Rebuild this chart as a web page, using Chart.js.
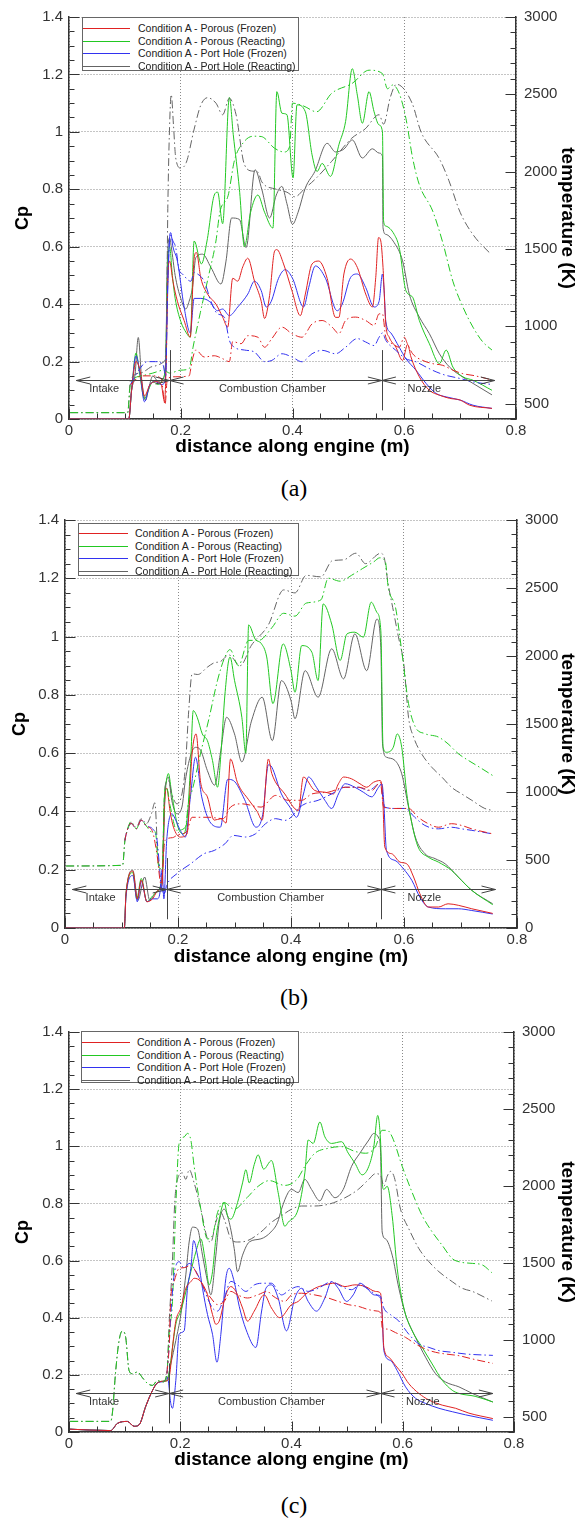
<!DOCTYPE html>
<html><head><meta charset="utf-8">
<script src="https://cdn.jsdelivr.net/npm/chart.js@4.4.0/dist/chart.umd.min.js"></script>
<style>
body{margin:0;background:#fff;}
#page{position:relative;width:579px;height:1520px;overflow:hidden;background:#fff;font-family:"Liberation Sans",Arial,sans-serif;}
#page canvas{position:absolute;left:0;}
.legend{position:absolute;border:1px solid #666;background:#fff;box-sizing:border-box;}
.legend .row{position:absolute;left:0;height:13px;font-size:10.5px;line-height:13px;color:#222;white-space:nowrap;}
.legend .sw{position:absolute;left:0;top:6px;height:1px;}
.legend .tx{position:absolute;top:0;}
.cap{position:absolute;left:0;width:588px;text-align:center;font-family:"Liberation Serif","Times New Roman",serif;font-size:24px;line-height:28px;color:#000;}
</style>
</head><body><div id="page"></div>
<script>
// ---------- tick labels / names ----------
const xTicks=[0,0.2,0.4,0.6,0.8];
const cpTicks=[0,0.2,0.4,0.6,0.8,1,1.2,1.4];
const tempTicksAC=[500,1000,1500,2000,2500,3000];
const tempTicksB=[0,500,1000,1500,2000,2500,3000];
const seriesNames=['Condition A - Porous (Frozen)','Condition A - Porous (Reacting)','Condition A - Port Hole (Frozen)','Condition A - Port Hole (Reacting)'];
const sectionNames=['Intake','Combustion Chamber','Nozzle'];
const sectionBounds=[0.013,0.18,0.56,0.762];

// ---------- panel (a): Cp (left axis) ----------
const aPorousFrozenCp=[[0,0],[0.107,0],[0.112,0.1],[0.12,0.2],[0.127,0.17],[0.135,0.08],[0.145,0.12],[0.155,0.13],[0.165,0.12],[0.171,0.06],[0.174,0.2],[0.177,0.5],[0.18,0.55],[0.186,0.48],[0.194,0.41],[0.206,0.343],[0.217,0.285],[0.224,0.56],[0.228,0.58],[0.236,0.49],[0.248,0.435],[0.263,0.4],[0.275,0.355],[0.284,0.32],[0.293,0.49],[0.302,0.48],[0.311,0.53],[0.32,0.56],[0.332,0.48],[0.344,0.41],[0.35,0.35],[0.359,0.43],[0.368,0.585],[0.372,0.59],[0.384,0.54],[0.399,0.447],[0.414,0.36],[0.423,0.435],[0.435,0.54],[0.447,0.55],[0.462,0.49],[0.477,0.354],[0.483,0.354],[0.492,0.505],[0.504,0.557],[0.516,0.528],[0.531,0.435],[0.543,0.39],[0.549,0.493],[0.554,0.632],[0.558,0.62],[0.562,0.528],[0.567,0.33],[0.573,0.285],[0.585,0.25],[0.597,0.204],[0.606,0.26],[0.612,0.216],[0.627,0.147],[0.645,0.1],[0.663,0.083],[0.681,0.072],[0.7,0.066],[0.717,0.048],[0.757,0.037]];
const aPorousReactingCp=[[0,0],[0.107,0],[0.112,0.1],[0.12,0.23],[0.127,0.15],[0.135,0.07],[0.142,0.1],[0.15,0.13],[0.16,0.12],[0.168,0.14],[0.173,0.2],[0.176,0.5],[0.18,0.6],[0.185,0.5],[0.19,0.42],[0.2,0.34],[0.21,0.3],[0.217,0.285],[0.224,0.62],[0.237,0.54],[0.247,0.62],[0.26,0.78],[0.266,0.79],[0.275,0.68],[0.287,1.12],[0.294,0.99],[0.305,0.8],[0.314,0.6],[0.325,0.72],[0.338,0.78],[0.35,0.72],[0.365,0.665],[0.372,1.14],[0.381,1.065],[0.39,1.06],[0.401,0.84],[0.408,1.094],[0.423,1.07],[0.435,0.92],[0.444,0.862],[0.453,0.89],[0.468,0.845],[0.483,0.955],[0.495,1.036],[0.507,1.22],[0.516,1.128],[0.525,1.03],[0.537,1.14],[0.546,1.07],[0.555,1.024],[0.561,1.0],[0.563,0.69],[0.567,0.672],[0.582,0.643],[0.591,0.597],[0.603,0.447],[0.615,0.424],[0.627,0.343],[0.645,0.262],[0.663,0.193],[0.675,0.24],[0.687,0.181],[0.705,0.147],[0.723,0.135],[0.757,0.1]];
const aPortFrozenCp=[[0,0],[0.107,0],[0.112,0.1],[0.12,0.22],[0.127,0.16],[0.135,0.06],[0.145,0.12],[0.155,0.13],[0.165,0.12],[0.172,0.13],[0.176,0.4],[0.18,0.63],[0.182,0.649],[0.186,0.6],[0.194,0.55],[0.206,0.39],[0.217,0.3],[0.224,0.42],[0.236,0.42],[0.251,0.41],[0.266,0.377],[0.275,0.383],[0.287,0.36],[0.302,0.39],[0.32,0.435],[0.332,0.48],[0.344,0.447],[0.353,0.39],[0.362,0.41],[0.375,0.49],[0.387,0.52],[0.4,0.49],[0.42,0.39],[0.429,0.458],[0.441,0.533],[0.459,0.49],[0.48,0.377],[0.489,0.4],[0.504,0.493],[0.516,0.505],[0.531,0.458],[0.546,0.39],[0.555,0.41],[0.561,0.505],[0.564,0.447],[0.567,0.34],[0.576,0.3],[0.591,0.25],[0.603,0.21],[0.621,0.17],[0.639,0.124],[0.657,0.089],[0.675,0.077],[0.7,0.066],[0.723,0.048],[0.757,0.037]];
const aPortReactingCp=[[0,0],[0.107,0],[0.112,0.1],[0.118,0.15],[0.124,0.284],[0.13,0.14],[0.137,0.065],[0.143,0.11],[0.15,0.15],[0.16,0.13],[0.168,0.14],[0.173,0.2],[0.176,0.55],[0.18,0.63],[0.183,0.6],[0.19,0.5],[0.2,0.42],[0.209,0.383],[0.215,0.41],[0.221,0.458],[0.227,0.562],[0.239,0.574],[0.254,0.528],[0.272,0.47],[0.281,0.55],[0.291,0.7],[0.305,0.695],[0.317,0.597],[0.333,0.868],[0.345,0.8],[0.359,0.7],[0.371,0.78],[0.381,0.81],[0.39,0.75],[0.4,0.678],[0.41,0.72],[0.423,0.805],[0.44,0.862],[0.462,0.96],[0.477,0.93],[0.492,0.94],[0.507,0.972],[0.525,0.909],[0.543,0.941],[0.555,0.926],[0.561,0.915],[0.562,0.666],[0.567,0.643],[0.582,0.614],[0.597,0.551],[0.609,0.435],[0.627,0.355],[0.645,0.297],[0.663,0.227],[0.681,0.181],[0.7,0.152],[0.723,0.124],[0.757,0.084]];
// ---------- panel (a): temperature K (right axis) ----------
const aInletT=[[0.002,441],[0.105,441]];
const aPorousFrozenT=[[0.11,623],[0.13,679],[0.15,679],[0.165,660],[0.172,493],[0.176,660],[0.19,673],[0.215,679],[0.22,771],[0.227,846],[0.242,801],[0.26,809],[0.275,790],[0.287,771],[0.293,901],[0.308,887],[0.32,939],[0.338,929],[0.35,864],[0.363,920],[0.381,994],[0.399,952],[0.417,929],[0.435,1015],[0.453,1037],[0.471,994],[0.483,952],[0.495,1037],[0.513,1059],[0.531,1037],[0.546,1005],[0.555,1080],[0.561,1080],[0.567,929],[0.579,887],[0.591,864],[0.6,929],[0.606,883],[0.615,822],[0.633,779],[0.651,758],[0.669,747],[0.687,716],[0.705,693],[0.723,682],[0.757,653]];
const aPorousReactingT=[[0.11,623],[0.13,679],[0.15,697],[0.17,716],[0.18,697],[0.2,716],[0.215,725],[0.222,864],[0.235,1087],[0.25,1329],[0.263,1551],[0.27,1737],[0.285,1848],[0.296,2071],[0.314,2196],[0.33,2229],[0.344,2227],[0.368,2151],[0.385,2127],[0.395,2164],[0.4,2443],[0.42,2424],[0.443,2387],[0.47,2506],[0.507,2571],[0.537,2656],[0.561,2634],[0.57,2536],[0.579,2560],[0.591,2506],[0.603,2344],[0.615,2088],[0.627,1915],[0.651,1744],[0.669,1540],[0.687,1291],[0.705,1124],[0.723,994],[0.74,901],[0.757,846]];
const aPortFrozenT=[[0.11,623],[0.125,716],[0.14,771],[0.155,771],[0.168,753],[0.173,679],[0.177,1329],[0.182,1588],[0.186,1551],[0.191,1509],[0.197,1366],[0.203,1338],[0.218,1291],[0.224,1347],[0.23,1338],[0.242,1291],[0.254,1161],[0.266,1080],[0.278,1059],[0.287,909],[0.296,864],[0.314,846],[0.332,833],[0.35,771],[0.363,779],[0.381,822],[0.399,801],[0.417,770],[0.435,822],[0.453,844],[0.477,822],[0.495,864],[0.516,920],[0.531,898],[0.546,875],[0.555,929],[0.561,957],[0.567,909],[0.585,844],[0.603,790],[0.621,770],[0.639,736],[0.657,705],[0.675,682],[0.7,662],[0.723,640],[0.757,623]];
const aPortReactingT=[[0.11,650],[0.13,700],[0.15,740],[0.17,770],[0.174,900],[0.177,1800],[0.181,2400],[0.183,2498],[0.187,2300],[0.191,2088],[0.2,2023],[0.21,2060],[0.224,2275],[0.236,2431],[0.248,2478],[0.263,2443],[0.275,2368],[0.287,2474],[0.299,2368],[0.314,2045],[0.329,2003],[0.338,1997],[0.345,1934],[0.371,1886],[0.39,1867],[0.404,1837],[0.423,1895],[0.44,1949],[0.47,2066],[0.506,2216],[0.53,2276],[0.555,2368],[0.563,2307],[0.575,2480],[0.586,2565],[0.614,2443],[0.63,2257],[0.663,2082],[0.68,1941],[0.7,1737],[0.724,1588],[0.755,1466]];

// ---------- panel (b): Cp ----------
const bPorousFrozenCp=[[0,0],[0.105,0],[0.108,0.118],[0.12,0.195],[0.128,0.1],[0.135,0.165],[0.145,0.09],[0.155,0.1],[0.165,0.13],[0.172,0.15],[0.176,0.42],[0.18,0.48],[0.186,0.4],[0.192,0.346],[0.204,0.312],[0.216,0.323],[0.225,0.6],[0.232,0.666],[0.24,0.5],[0.252,0.45],[0.264,0.37],[0.276,0.375],[0.285,0.36],[0.293,0.58],[0.305,0.5],[0.325,0.44],[0.34,0.4],[0.349,0.37],[0.36,0.58],[0.366,0.53],[0.389,0.46],[0.413,0.403],[0.422,0.518],[0.442,0.472],[0.46,0.466],[0.475,0.46],[0.484,0.495],[0.493,0.518],[0.507,0.512],[0.522,0.495],[0.534,0.483],[0.546,0.5],[0.558,0.506],[0.562,0.46],[0.566,0.278],[0.578,0.255],[0.593,0.226],[0.605,0.22],[0.617,0.175],[0.628,0.118],[0.643,0.072],[0.661,0.072],[0.678,0.083],[0.696,0.078],[0.72,0.066],[0.757,0.05]];
const bPorousReactingCp=[[0,0],[0.105,0],[0.108,0.118],[0.12,0.19],[0.127,0.1],[0.135,0.17],[0.145,0.09],[0.155,0.11],[0.165,0.13],[0.172,0.18],[0.176,0.45],[0.179,0.5],[0.183,0.53],[0.189,0.46],[0.2,0.346],[0.21,0.323],[0.217,0.392],[0.222,0.552],[0.227,0.746],[0.234,0.723],[0.243,0.666],[0.252,0.643],[0.261,0.575],[0.27,0.483],[0.276,0.598],[0.283,0.8],[0.292,0.93],[0.3,0.85],[0.313,0.723],[0.32,0.6],[0.325,1.04],[0.337,0.99],[0.347,0.977],[0.357,0.93],[0.368,0.77],[0.386,0.975],[0.4,0.883],[0.407,0.809],[0.419,0.969],[0.437,0.946],[0.448,0.849],[0.457,1.112],[0.472,1.043],[0.487,0.918],[0.499,1.009],[0.513,1.015],[0.528,0.998],[0.542,1.118],[0.552,1.083],[0.559,1.02],[0.563,0.62],[0.569,0.603],[0.581,0.62],[0.588,0.666],[0.596,0.62],[0.605,0.46],[0.614,0.358],[0.625,0.278],[0.643,0.243],[0.661,0.226],[0.684,0.198],[0.702,0.163],[0.72,0.129],[0.757,0.08]];
const bPortFrozenCp=[[0,0],[0.105,0],[0.108,0.11],[0.12,0.18],[0.128,0.09],[0.135,0.16],[0.145,0.09],[0.155,0.1],[0.163,0.1],[0.168,0.12],[0.172,0.2],[0.175,0.1],[0.18,0.3],[0.189,0.392],[0.196,0.37],[0.204,0.335],[0.213,0.312],[0.222,0.45],[0.231,0.586],[0.242,0.45],[0.258,0.36],[0.275,0.346],[0.288,0.51],[0.298,0.506],[0.318,0.44],[0.338,0.346],[0.35,0.39],[0.36,0.56],[0.366,0.552],[0.383,0.46],[0.398,0.415],[0.41,0.38],[0.422,0.46],[0.431,0.518],[0.445,0.483],[0.46,0.438],[0.472,0.41],[0.484,0.46],[0.496,0.495],[0.513,0.483],[0.528,0.466],[0.543,0.45],[0.555,0.483],[0.561,0.495],[0.564,0.438],[0.569,0.266],[0.584,0.232],[0.599,0.203],[0.614,0.163],[0.628,0.106],[0.643,0.072],[0.673,0.066],[0.696,0.066],[0.72,0.06],[0.757,0.048]];
const bPortReactingCp=[[0,0],[0.105,0],[0.108,0.118],[0.12,0.198],[0.129,0.095],[0.141,0.175],[0.15,0.095],[0.159,0.118],[0.168,0.14],[0.173,0.2],[0.177,0.45],[0.183,0.518],[0.189,0.438],[0.198,0.392],[0.207,0.415],[0.213,0.506],[0.222,0.59],[0.231,0.62],[0.24,0.61],[0.252,0.54],[0.265,0.49],[0.275,0.6],[0.286,0.723],[0.3,0.666],[0.313,0.57],[0.33,0.71],[0.349,0.792],[0.367,0.643],[0.383,0.849],[0.4,0.78],[0.407,0.718],[0.425,0.883],[0.448,0.792],[0.472,0.958],[0.493,0.855],[0.513,1.009],[0.534,0.883],[0.552,1.06],[0.559,0.963],[0.562,0.632],[0.569,0.586],[0.584,0.575],[0.596,0.529],[0.608,0.415],[0.62,0.312],[0.637,0.255],[0.655,0.238],[0.673,0.22],[0.696,0.175],[0.72,0.129],[0.757,0.083]];
// ---------- panel (b): temperature K ----------
const bInletT=[[0.002,456],[0.102,461]];
const bPorousFrozenT=[[0.106,643],[0.108,686],[0.117,771],[0.126,729],[0.135,793],[0.144,750],[0.155,707],[0.163,536],[0.17,321],[0.177,643],[0.19,664],[0.2,686],[0.215,707],[0.225,814],[0.255,814],[0.28,804],[0.293,889],[0.313,913],[0.347,889],[0.373,975],[0.395,939],[0.419,939],[0.437,986],[0.466,999],[0.496,1035],[0.519,1035],[0.543,1011],[0.558,1072],[0.564,889],[0.584,879],[0.608,879],[0.625,814],[0.643,767],[0.661,741],[0.684,767],[0.702,754],[0.72,729],[0.757,692]];
const bPorousReactingT=[[0.106,643],[0.108,686],[0.117,782],[0.126,729],[0.135,793],[0.144,750],[0.153,707],[0.16,707],[0.165,471],[0.172,429],[0.176,964],[0.18,1029],[0.186,900],[0.198,718],[0.213,741],[0.219,939],[0.225,1011],[0.24,1286],[0.255,1543],[0.27,1822],[0.283,1993],[0.292,2047],[0.307,1929],[0.325,2115],[0.343,2115],[0.366,2207],[0.387,2314],[0.407,2293],[0.427,2389],[0.453,2413],[0.466,2572],[0.487,2550],[0.507,2593],[0.527,2644],[0.547,2694],[0.557,2722],[0.567,2694],[0.572,2507],[0.585,2357],[0.596,2036],[0.608,1650],[0.62,1479],[0.637,1429],[0.661,1404],[0.678,1354],[0.696,1282],[0.714,1232],[0.735,1179],[0.757,1121]];
const bPortFrozenT=[[0.106,643],[0.108,686],[0.117,771],[0.126,729],[0.135,793],[0.144,750],[0.155,729],[0.163,643],[0.17,321],[0.175,236],[0.18,313],[0.198,399],[0.222,471],[0.246,546],[0.264,570],[0.283,619],[0.298,681],[0.319,669],[0.337,692],[0.355,767],[0.373,804],[0.389,791],[0.4,814],[0.413,879],[0.425,913],[0.448,939],[0.472,986],[0.496,1035],[0.519,1035],[0.537,1011],[0.558,1061],[0.566,889],[0.584,879],[0.602,879],[0.619,814],[0.637,754],[0.661,729],[0.684,741],[0.702,729],[0.72,718],[0.757,692]];
const bPortReactingT=[[0.106,643],[0.108,686],[0.117,767],[0.126,741],[0.135,804],[0.144,767],[0.153,840],[0.159,921],[0.165,497],[0.172,429],[0.176,964],[0.179,1072],[0.183,1084],[0.189,986],[0.198,913],[0.207,986],[0.213,1183],[0.219,1599],[0.225,1869],[0.235,1864],[0.252,1918],[0.264,1950],[0.275,1959],[0.29,2008],[0.31,1929],[0.33,2079],[0.36,2229],[0.387,2486],[0.407,2464],[0.427,2593],[0.453,2582],[0.473,2700],[0.493,2707],[0.515,2756],[0.532,2679],[0.552,2743],[0.558,2756],[0.565,2722],[0.572,2529],[0.58,2357],[0.59,2143],[0.6,1929],[0.608,1549],[0.617,1404],[0.631,1282],[0.649,1183],[0.667,1110],[0.684,1035],[0.702,986],[0.72,939],[0.743,879],[0.757,864]];

// ---------- panel (c): Cp ----------
const cIntakeCp=[[0,0.01],[0.075,0.005],[0.087,0.03],[0.105,0.037],[0.117,0.02],[0.126,0.025],[0.138,0.09],[0.15,0.145],[0.159,0.172],[0.171,0.178]];
const cPorousFrozenCp=[[0.177,0.18],[0.181,0.2],[0.186,0.296],[0.192,0.388],[0.201,0.434],[0.21,0.503],[0.219,0.526],[0.225,0.538],[0.237,0.526],[0.249,0.48],[0.258,0.411],[0.264,0.377],[0.27,0.388],[0.282,0.48],[0.291,0.509],[0.3,0.492],[0.312,0.434],[0.321,0.388],[0.333,0.423],[0.351,0.48],[0.364,0.434],[0.379,0.4],[0.4,0.446],[0.412,0.457],[0.424,0.48],[0.442,0.503],[0.46,0.515],[0.478,0.521],[0.496,0.509],[0.514,0.515],[0.533,0.509],[0.551,0.492],[0.56,0.486],[0.563,0.411],[0.566,0.296],[0.575,0.262],[0.587,0.233],[0.599,0.204],[0.611,0.169],[0.629,0.135],[0.647,0.112],[0.671,0.094],[0.695,0.083],[0.719,0.066],[0.762,0.047]];
const cPorousReactingCp=[[0.177,0.18],[0.183,0.25],[0.192,0.377],[0.201,0.423],[0.21,0.49],[0.219,0.561],[0.228,0.63],[0.237,0.676],[0.245,0.6],[0.252,0.515],[0.258,0.561],[0.264,0.676],[0.27,0.745],[0.279,0.803],[0.285,0.757],[0.291,0.745],[0.303,0.803],[0.312,0.872],[0.318,0.918],[0.324,0.872],[0.333,0.936],[0.34,0.97],[0.35,0.92],[0.364,0.95],[0.376,0.838],[0.388,0.72],[0.394,0.734],[0.412,0.78],[0.424,0.907],[0.43,1.022],[0.439,1.01],[0.451,1.085],[0.46,1.033],[0.472,1.01],[0.49,1.016],[0.502,0.976],[0.514,0.941],[0.527,0.9],[0.539,0.93],[0.548,0.999],[0.555,1.108],[0.56,1.022],[0.563,0.872],[0.566,0.849],[0.572,0.86],[0.581,0.757],[0.59,0.573],[0.602,0.434],[0.617,0.354],[0.635,0.296],[0.653,0.238],[0.671,0.181],[0.689,0.146],[0.701,0.135],[0.73,0.125],[0.762,0.105]];
const cPortFrozenCp=[[0.177,0.192],[0.183,0.1],[0.186,0.083],[0.192,0.18],[0.198,0.342],[0.207,0.354],[0.213,0.503],[0.219,0.573],[0.224,0.67],[0.231,0.619],[0.24,0.503],[0.249,0.411],[0.258,0.342],[0.266,0.244],[0.273,0.342],[0.282,0.538],[0.288,0.573],[0.297,0.526],[0.306,0.44],[0.318,0.36],[0.336,0.296],[0.346,0.42],[0.354,0.503],[0.364,0.515],[0.376,0.469],[0.391,0.354],[0.406,0.469],[0.418,0.503],[0.43,0.457],[0.445,0.423],[0.46,0.469],[0.472,0.526],[0.484,0.503],[0.499,0.457],[0.511,0.48],[0.523,0.521],[0.536,0.503],[0.548,0.48],[0.56,0.469],[0.563,0.411],[0.566,0.285],[0.578,0.25],[0.59,0.215],[0.605,0.158],[0.623,0.118],[0.641,0.1],[0.665,0.083],[0.689,0.071],[0.713,0.06],[0.762,0.041]];
const cPortReactingCp=[[0.177,0.187],[0.183,0.238],[0.192,0.32],[0.201,0.41],[0.21,0.55],[0.216,0.665],[0.222,0.717],[0.231,0.711],[0.24,0.619],[0.249,0.527],[0.255,0.48],[0.264,0.619],[0.27,0.734],[0.279,0.78],[0.288,0.734],[0.297,0.642],[0.303,0.561],[0.312,0.619],[0.324,0.665],[0.345,0.676],[0.363,0.7],[0.375,0.734],[0.382,0.78],[0.394,0.838],[0.4,0.849],[0.412,0.838],[0.424,0.884],[0.436,0.849],[0.451,0.809],[0.463,0.849],[0.478,0.82],[0.493,0.849],[0.508,0.93],[0.523,0.976],[0.539,1.022],[0.548,1.045],[0.557,1.028],[0.56,0.987],[0.563,0.7],[0.569,0.676],[0.581,0.619],[0.593,0.503],[0.605,0.411],[0.623,0.331],[0.641,0.262],[0.659,0.204],[0.677,0.175],[0.701,0.158],[0.725,0.135],[0.762,0.105]];
// ---------- panel (c): temperature K ----------
const cIntakeT=[[0.002,469],[0.075,469],[0.078,523],[0.084,799],[0.09,994],[0.096,1057],[0.102,1013],[0.108,799],[0.114,779],[0.123,790],[0.132,753],[0.141,716],[0.15,703],[0.159,734],[0.168,725],[0.176,779]];
const cPorousFrozenT=[[0.18,957],[0.183,1273],[0.189,1379],[0.198,1464],[0.207,1468],[0.219,1484],[0.231,1421],[0.243,1334],[0.255,1271],[0.267,1228],[0.279,1249],[0.291,1314],[0.303,1291],[0.321,1271],[0.339,1291],[0.357,1314],[0.364,1291],[0.388,1249],[0.4,1291],[0.418,1302],[0.442,1291],[0.466,1271],[0.484,1249],[0.502,1228],[0.52,1217],[0.539,1195],[0.554,1186],[0.56,1174],[0.563,1078],[0.572,1069],[0.587,1046],[0.605,1015],[0.623,972],[0.641,939],[0.659,918],[0.677,907],[0.701,896],[0.725,875],[0.762,846]];
const cPorousReactingT=[[0.18,1035],[0.186,1249],[0.192,1867],[0.198,2276],[0.207,2318],[0.213,2341],[0.219,2298],[0.225,2127],[0.237,1848],[0.249,1655],[0.258,1678],[0.267,1826],[0.279,1891],[0.297,1848],[0.32,1923],[0.34,1997],[0.36,2034],[0.388,2003],[0.41,2043],[0.424,2127],[0.442,2212],[0.466,2244],[0.49,2255],[0.514,2224],[0.533,2212],[0.551,2255],[0.563,2361],[0.572,2361],[0.581,2318],[0.599,2127],[0.617,1956],[0.635,1806],[0.653,1700],[0.671,1613],[0.689,1527],[0.703,1505],[0.725,1496],[0.743,1486],[0.76,1436]];
const cPortFrozenT=[[0.18,957],[0.183,1161],[0.189,1421],[0.198,1507],[0.207,1464],[0.216,1496],[0.225,1464],[0.237,1379],[0.249,1271],[0.258,1206],[0.267,1186],[0.279,1271],[0.291,1379],[0.303,1356],[0.318,1314],[0.333,1356],[0.348,1367],[0.364,1367],[0.382,1291],[0.397,1325],[0.412,1345],[0.43,1314],[0.448,1334],[0.472,1377],[0.49,1345],[0.508,1325],[0.523,1356],[0.539,1325],[0.554,1291],[0.56,1282],[0.566,1206],[0.578,1163],[0.593,1121],[0.611,1035],[0.629,972],[0.647,950],[0.665,929],[0.689,918],[0.713,907],[0.762,898]];
const cPortReactingT=[[0.18,1106],[0.186,1514],[0.19,1886],[0.195,2042],[0.204,2084],[0.21,2042],[0.216,2105],[0.225,2019],[0.237,1848],[0.249,1655],[0.255,1635],[0.264,1763],[0.272,1830],[0.28,1774],[0.291,1655],[0.303,1635],[0.321,1644],[0.345,1700],[0.364,1763],[0.382,1806],[0.4,1848],[0.418,1869],[0.442,1869],[0.466,1880],[0.484,1902],[0.502,1934],[0.52,1977],[0.539,2042],[0.551,2079],[0.56,2071],[0.566,1997],[0.572,2062],[0.578,2094],[0.585,2053],[0.596,1848],[0.611,1720],[0.629,1592],[0.647,1507],[0.665,1442],[0.689,1377],[0.707,1334],[0.725,1314],[0.76,1252]];

// ---------- styling / layout (not data) ----------
const FONT='"Liberation Sans", Arial, sans-serif';
Chart.defaults.font.family=FONT;
const seriesColors=['#e02222','#22c822','#3232f0','#646464'];
const TDASH=[8,3,1.5,3];
const ARROW_CP=0.135, LABEL_CP=0.104, SEP_LOW=0.03, SEP_HIGH=0.24;
const labelAt=[0.063,0.364,0.636];
const drawOrder=[0,2,1,3];   // red, blue, green, gray

// the shared inlet/intake temperature segment is drawn by the reacting curves only (the frozen ones lie exactly beneath them)
const panels=[
 {top:0,H:465,left:69,right:516,chartTop:14,chartBottom:419,tMin:400,tTicks:tempTicksAC,xTitleY:447,cpTitleX:23.4,
  cp:[aPorousFrozenCp,aPorousReactingCp,aPortFrozenCp,aPortReactingCp],
  t:[aPorousFrozenT,aInletT.concat(aPorousReactingT),aPortFrozenT,aInletT.concat(aPortReactingT)],
  legend:{left:82,top:17,w:217,h:54,rows:[4,17,29,42],sw:47,tx:55},cap:'(a)',capY:488},
 {top:500,H:470,left:65,right:517,chartTop:20,chartBottom:428,tMin:0,tTicks:tempTicksB,xTitleY:456.7,cpTitleX:19.6,
  cp:[bPorousFrozenCp,bPorousReactingCp,bPortFrozenCp,bPortReactingCp],
  t:[bPorousFrozenT,bInletT.concat(bPorousReactingT),bPortFrozenT,bInletT.concat(bPortReactingT)],
  legend:{left:78,top:523,w:221,h:53,rows:[3,16,28,41],sw:49,tx:56},cap:'(b)',capY:997},
 {top:1015,H:470,left:69,right:514,chartTop:14,chartBottom:417,tMin:400,tTicks:tempTicksAC,xTitleY:445,cpTitleX:23.4,
  cp:[cIntakeCp.concat(cPorousFrozenCp),cIntakeCp.concat(cPorousReactingCp),cIntakeCp.concat(cPortFrozenCp),cIntakeCp.concat(cPortReactingCp)],
  t:[[cIntakeT[cIntakeT.length-1]].concat(cPorousFrozenT),cIntakeT.concat(cPorousReactingT),[cIntakeT[cIntakeT.length-1]].concat(cPortFrozenT),cIntakeT.concat(cPortReactingT)],
  legend:{left:81,top:1031,w:218,h:52,rows:[4,17,29,42],sw:48,tx:55},cap:'(c)',capY:1505}
];

function mk(arr,color,isT){
  return {data:arr.map(p=>({x:p[0],y:p[1]})),yAxisID:isT?'y1':'y',borderColor:color,borderWidth:1,
    borderDash:isT?TDASH:[],pointRadius:0,pointHoverRadius:0,fill:false,cubicInterpolationMode:'monotone'};
}
function makeDecor(){
  return {id:'decor',afterDatasetsDraw(chart){
    const {ctx,chartArea:ca,scales}=chart; const x=scales.x,y=scales.y,y1=scales.y1;
    ctx.save(); ctx.setLineDash([]); ctx.strokeStyle='#333'; ctx.lineWidth=1;
    const seg=(a,b,c,d)=>{ctx.beginPath();ctx.moveTo(a,b);ctx.lineTo(c,d);ctx.stroke();};
    const L=Math.round(ca.left)+0.5,R=Math.round(ca.right)-0.5,B=Math.round(ca.bottom)-0.5;
    for(let i=0;i<=28;i++){const py=Math.round(y.getPixelForValue(i*0.05))+0.5;seg(L,py,L+(i%4?5:10),py);}
    for(let i=0;i<=16;i++){const px=Math.round(x.getPixelForValue(i*0.05))+0.5;seg(px,B,px,B-(i%4?5:10));}
    for(let v=Math.ceil(y1.min/100)*100;v<=y1.max;v+=100){const py=Math.round(y1.getPixelForValue(v))+0.5;seg(R,py,R-(v%500?5:10),py);}
    ctx.strokeStyle='#444';
    const ay=Math.round(y.getPixelForValue(ARROW_CP))+0.5;
    for(let i=0;i<sectionNames.length;i++){
      const x1=x.getPixelForValue(sectionBounds[i]),x2=x.getPixelForValue(sectionBounds[i+1]);
      seg(x1,ay,x2,ay);seg(x1,ay,x1+14,ay-3.5);seg(x1,ay,x1+14,ay+3.5);seg(x2,ay,x2-14,ay-3.5);seg(x2,ay,x2-14,ay+3.5);
    }
    [sectionBounds[1],sectionBounds[2]].forEach(b=>{const px=Math.round(x.getPixelForValue(b))+0.5;seg(px,y.getPixelForValue(SEP_LOW),px,y.getPixelForValue(SEP_HIGH));});
    ctx.fillStyle='#333';ctx.font='11px '+FONT;ctx.textAlign='center';ctx.textBaseline='middle';
    const ly=y.getPixelForValue(LABEL_CP);
    sectionNames.forEach((n,i)=>ctx.fillText(n,x.getPixelForValue(labelAt[i]),ly));
    ctx.restore();
  }};
}
const fmt1=v=>String(Math.round(v*10)/10);
const page=document.getElementById('page');
panels.forEach(p=>{
  const cv=document.createElement('canvas');cv.width=579;cv.height=p.H;
  cv.style.top=p.top+'px';cv.style.width='579px';cv.style.height=p.H+'px';page.appendChild(cv);
  const datasets=[];
  drawOrder.forEach(i=>datasets.push(mk(p.t[i],seriesColors[i],true)));
  drawOrder.forEach(i=>datasets.push(mk(p.cp[i],seriesColors[i],false)));
  const tickFont={family:FONT,size:15};
  new Chart(cv,{type:'line',data:{datasets},plugins:[makeDecor()],options:{
    responsive:false,animation:false,events:[],
    layout:{padding:{top:p.chartTop,left:0,right:0,bottom:0}},
    plugins:{legend:{display:false},tooltip:{enabled:false}},
    scales:{
      x:{type:'linear',min:0,max:0.8,afterBuildTicks:s=>{s.ticks=xTicks.map(v=>({value:v}));},
        ticks:{padding:3,color:'#333',font:tickFont,callback:fmt1,maxRotation:0,autoSkip:false},
        grid:{color:'#8a8a8a',drawTicks:false,lineWidth:1},
        border:{display:true,color:'#333',width:1.5,dash:[1,2]},
        title:{display:true,text:'distance along engine (m)',color:'#000',font:{family:FONT,size:19,weight:'bold'},padding:{top:0,bottom:p.H-p.xTitleY-11.4}},
        afterFit:s=>{s.height=p.H-p.chartBottom;}},
      y:{type:'linear',position:'left',min:0,max:1.4,afterBuildTicks:s=>{s.ticks=cpTicks.map(v=>({value:v}));},
        ticks:{padding:6,color:'#333',font:tickFont,callback:fmt1,autoSkip:false},
        grid:{color:'#8a8a8a',drawTicks:false,lineWidth:1},
        border:{display:true,color:'#333',width:1.5,dash:[1,2]},
        title:{display:true,text:'Cp',color:'#000',font:{family:FONT,size:18,weight:'bold'},padding:{top:p.cpTitleX-10.8,bottom:0}},
        afterFit:s=>{s.width=p.left;}},
      y1:{type:'linear',position:'right',min:p.tMin,max:3000,afterBuildTicks:s=>{s.ticks=p.tTicks.map(v=>({value:v}));},
        ticks:{padding:8,color:'#333',font:tickFont,callback:v=>String(v),autoSkip:false},
        grid:{display:false,drawTicks:false},
        border:{display:true,color:'#333',width:1.5},
        title:{display:true,text:'temperature (K)',color:'#000',font:{family:FONT,size:19,weight:'bold'},padding:{top:0,bottom:0}},
        afterFit:s=>{s.width=579-p.right;}}
    }}});
  const lg=document.createElement('div');lg.className='legend';
  Object.assign(lg.style,{left:p.legend.left+'px',top:p.legend.top+'px',width:p.legend.w+'px',height:p.legend.h+'px'});
  seriesNames.forEach((n,i)=>{
    const r=document.createElement('div');r.className='row';r.style.top=p.legend.rows[i]+'px';r.style.width=(p.legend.w-2)+'px';
    const sw=document.createElement('div');sw.className='sw';sw.style.width=p.legend.sw+'px';sw.style.background=seriesColors[i];
    const tx=document.createElement('span');tx.className='tx';tx.style.left=p.legend.tx+'px';tx.textContent=n;
    r.appendChild(sw);r.appendChild(tx);lg.appendChild(r);
  });
  page.appendChild(lg);
  const cap=document.createElement('div');cap.className='cap';cap.style.top=(p.capY-14)+'px';cap.textContent=p.cap;page.appendChild(cap);
});
</script>
</body></html>
